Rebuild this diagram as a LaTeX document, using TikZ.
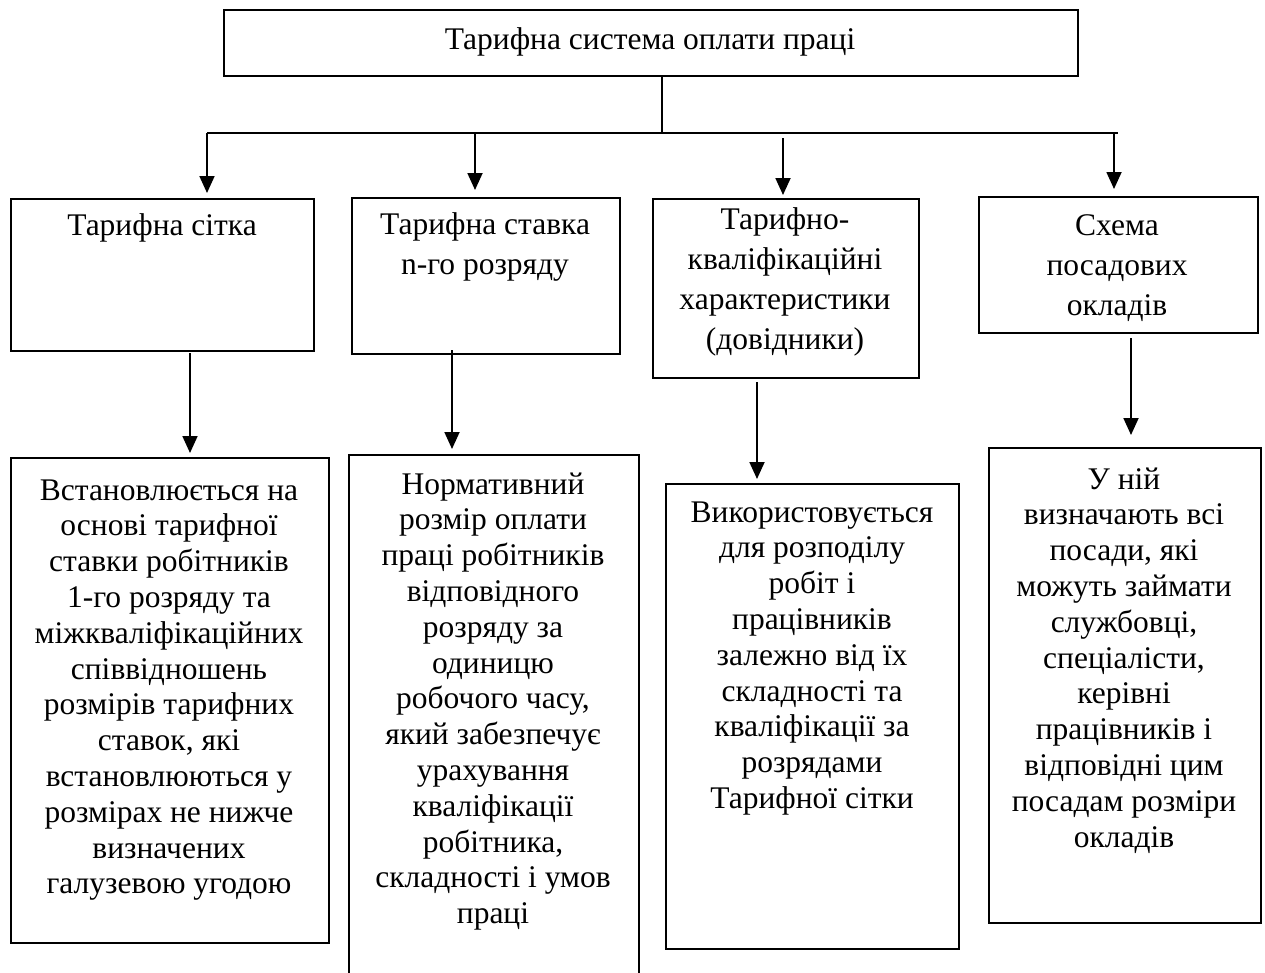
\documentclass[tikz,border=0pt]{standalone}
\usepackage{fontspec}
\setmainfont{Liberation Serif}
\usetikzlibrary{arrows.meta}
\begin{document}
\begin{tikzpicture}[x=1pt,y=-1pt,
 box/.style={draw, line width=1.6pt, inner sep=0pt, anchor=north west},
 txtA/.style={anchor=north, inner sep=0pt, align=center, font=\fontsize{31.5}{40}\selectfont},
 txtB/.style={anchor=north, inner sep=0pt, align=center, font=\fontsize{31.5}{35.8}\selectfont},
 arr/.style={line width=1.8pt, -{Triangle[width=15pt,length=17pt]}},
 ln/.style={line width=1.6pt},
 thinln/.style={line width=1.1pt}]
\useasboundingbox (0,0) rectangle (1265,972);
\clip (0,0) rectangle (1265,972);
% boxes
\node[box, minimum width=854pt, minimum height=66pt] (T) at (223,9) {};
\node[box, minimum width=303pt, minimum height=152pt] (A1) at (10,198) {};
\node[box, minimum width=268pt, minimum height=156pt] (A2) at (351,197) {};
\node[box, minimum width=266pt, minimum height=179pt] (A3) at (652,198) {};
\node[box, minimum width=279pt, minimum height=136pt] (A4) at (978,196) {};
\node[box, minimum width=318pt, minimum height=485pt] (B1) at (10,457) {};
\node[box, minimum width=290pt, minimum height=540pt] (B2) at (348,454) {};
\node[box, minimum width=293pt, minimum height=465pt] (B3) at (665,483) {};
\node[box, minimum width=272pt, minimum height=475pt] (B4) at (988,447) {};
% texts
\node[txtA] (Tt) at (650,21) {\strut Тарифна система оплати праці};
\node[txtA] (A1t) at (162,207) {\strut Тарифна сітка};
\node[txtA] (A2t) at (485,206) {\strut Тарифна ставка\\n-го розряду};
\node[txtA] (A3t) at (785,201) {\strut Тарифно-\\кваліфікаційні\\характеристики\\(довідники)};
\node[txtA] (A4t) at (1117,207) {\strut Схема\\посадових\\окладів};
\node[txtB] (B1t) at (169,474.8) {\strut Встановлюється на\\основі тарифної\\ставки робітників\\1-го розряду та\\міжкваліфікаційних\\співвідношень\\розмірів тарифних\\ставок, які\\встановлюються у\\розмірах не нижче\\визначених\\галузевою угодою};
\node[txtB] (B2t) at (493,468.8) {\strut Нормативний\\розмір оплати\\праці робітників\\відповідного\\розряду за\\одиницю\\робочого часу,\\який забезпечує\\урахування\\кваліфікації\\робітника,\\складності і умов\\праці};
\node[txtB] (B3t) at (812,496.8) {\strut Використовується\\для розподілу\\робіт і\\працівників\\залежно від їх\\складності та\\кваліфікації за\\розрядами\\Тарифної сітки};
\node[txtB] (B4t) at (1124,463.8) {\strut У ній\\визначають всі\\посади, які\\можуть займати\\службовці,\\спеціалісти,\\керівні\\працівників і\\відповідні цим\\посадам розміри\\окладів};
% connector coordinates
\coordinate (vx) at (662,0);
\coordinate (vend) at (662,132);
\coordinate (busL) at (207,133);
\coordinate (busR) at (1118,133);
\coordinate (s1) at (207,133);  \coordinate (e1) at (207,193);
\coordinate (s2) at (475,133);  \coordinate (e2) at (475,190);
\coordinate (s3) at (783,138);  \coordinate (e3) at (783,195);
\coordinate (s4) at (1114,133); \coordinate (e4) at (1114,189);
\coordinate (r1) at (190,353);  \coordinate (f1) at (190,453);
\coordinate (r2) at (452,350);  \coordinate (f2) at (452,449);
\coordinate (r3) at (757,382);  \coordinate (f3) at (757,479);
\coordinate (r4) at (1131,338); \coordinate (f4) at (1131,435);
% connectors
\draw[thinln] (T.south -| vx) -- (vend);
\draw[ln] (busL) -- (busR);
\draw[arr] (s1) -- (e1);
\draw[arr] (s2) -- (e2);
\draw[arr] (s3) -- (e3);
\draw[arr] (s4) -- (e4);
\draw[arr] (r1) -- (f1);
\draw[arr] (r2) -- (f2);
\draw[arr] (r3) -- (f3);
\draw[arr] (r4) -- (f4);
\end{tikzpicture}
\end{document}
